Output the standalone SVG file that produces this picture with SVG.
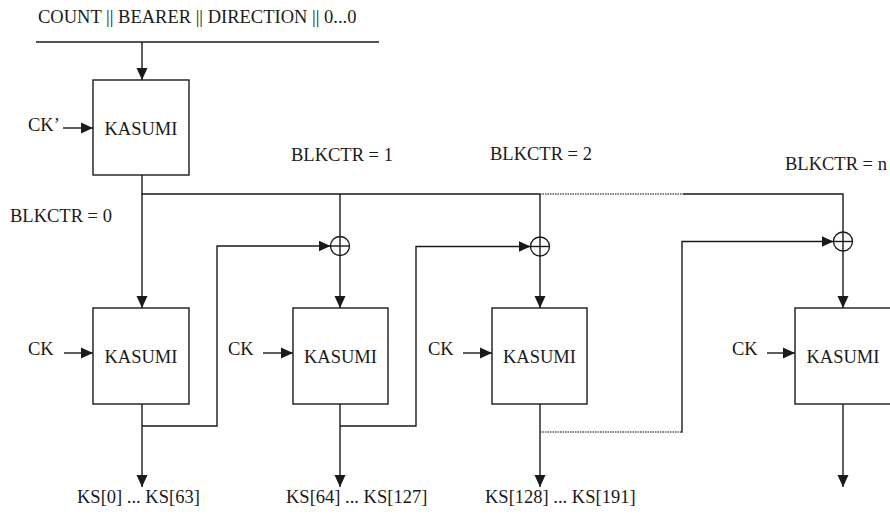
<svg xmlns="http://www.w3.org/2000/svg" width="890" height="514" viewBox="0 0 890 514">
<style>
text{font-family:'Liberation Serif','Times New Roman','DejaVu Serif',serif;font-size:18.5px;fill:#1a1a1a}
.c{text-anchor:middle}
.ln{stroke:#1a1a1a;stroke-width:1.4;fill:none}
.dt{stroke:#555;stroke-width:1.4;fill:none;stroke-dasharray:1.5 1}
.bx{stroke:#1a1a1a;stroke-width:1.4;fill:#fff}
.x{stroke:#1a1a1a;stroke-width:1.3;fill:#fff}
</style>
<defs>
<marker id="ah" markerWidth="12" markerHeight="12" viewBox="0 0 12 12" refX="12" refY="6" orient="auto" markerUnits="userSpaceOnUse">
<path d="M0,0.5 L12,6 L0,11.5 Z" fill="#1a1a1a"/>
</marker>
</defs>
<rect width="890" height="514" fill="#fff"/>
<g id="connectors">
<line class="ln" x1="36" y1="42" x2="379" y2="42"/>
<line class="ln" x1="142" y1="42" x2="142" y2="80" marker-end="url(#ah)"/>
<line class="ln" x1="63" y1="128" x2="93" y2="128" marker-end="url(#ah)"/>
<polyline class="ln" points="142,175 142,194 540,194"/>
<line class="dt" x1="540" y1="194" x2="683" y2="194"/>
<polyline class="ln" points="683,194 843,194 843,232"/>
<line class="ln" x1="142" y1="194" x2="142" y2="308" marker-end="url(#ah)"/>
<line class="ln" x1="340" y1="194" x2="340" y2="236"/>
<line class="ln" x1="340" y1="255" x2="340" y2="308" marker-end="url(#ah)"/>
<line class="ln" x1="540" y1="194" x2="540" y2="237"/>
<line class="ln" x1="540" y1="256" x2="540" y2="308" marker-end="url(#ah)"/>
<line class="ln" x1="843" y1="251" x2="843" y2="308" marker-end="url(#ah)"/>
<line class="ln" x1="64" y1="353" x2="93" y2="353" marker-end="url(#ah)"/>
<line class="ln" x1="263" y1="353" x2="293" y2="353" marker-end="url(#ah)"/>
<line class="ln" x1="463" y1="353" x2="492" y2="353" marker-end="url(#ah)"/>
<line class="ln" x1="767" y1="353" x2="795" y2="353" marker-end="url(#ah)"/>
<line class="ln" x1="142" y1="404" x2="142" y2="487" marker-end="url(#ah)"/>
<line class="ln" x1="340" y1="404" x2="340" y2="487" marker-end="url(#ah)"/>
<line class="ln" x1="540" y1="404" x2="540" y2="487" marker-end="url(#ah)"/>
<line class="ln" x1="843" y1="404" x2="843" y2="487" marker-end="url(#ah)"/>
<polyline class="ln" points="142,426 217,426 217,246 330.5,246" marker-end="url(#ah)"/>
<polyline class="ln" points="340,426 416,426 416,246.5 530.5,246.5" marker-end="url(#ah)"/>
<line class="dt" x1="540" y1="432" x2="682" y2="432"/>
<polyline class="ln" points="682,432.7 682,241.5 833.5,241.5" marker-end="url(#ah)"/>
</g>
<g id="xor1"><circle class="x" cx="340" cy="246" r="9.5"/><line class="ln" x1="330.5" y1="246" x2="349.5" y2="246"/><line class="ln" x1="340" y1="236.5" x2="340" y2="255.5"/></g>
<g id="xor2"><circle class="x" cx="540" cy="246.5" r="9.5"/><line class="ln" x1="530.5" y1="246.5" x2="549.5" y2="246.5"/><line class="ln" x1="540" y1="237" x2="540" y2="256"/></g>
<g id="xorn"><circle class="x" cx="843" cy="241.5" r="9.5"/><line class="ln" x1="833.5" y1="241.5" x2="852.5" y2="241.5"/><line class="ln" x1="843" y1="232" x2="843" y2="251"/></g>
<g id="kasumi0"><rect class="bx" x="93" y="80" width="96" height="95"/><text class="c" x="141" y="135">KASUMI</text></g>
<g id="kasumi1"><rect class="bx" x="93" y="308" width="96" height="96"/><text class="c" x="141" y="363">KASUMI</text></g>
<g id="kasumi2"><rect class="bx" x="293" y="308" width="95" height="96"/><text class="c" x="340.5" y="363">KASUMI</text></g>
<g id="kasumi3"><rect class="bx" x="492" y="308" width="95" height="96"/><text class="c" x="539.5" y="363">KASUMI</text></g>
<g id="kasumin"><rect class="bx" x="795" y="308" width="96" height="96"/><text class="c" x="843" y="363">KASUMI</text></g>
<g id="labels">
<text x="38" y="23">COUNT || BEARER || DIRECTION || 0...0</text>
<text x="28" y="131">CK’</text>
<text x="291" y="161">BLKCTR = 1</text>
<text x="490" y="160">BLKCTR = 2</text>
<text x="785" y="170">BLKCTR = n</text>
<text x="10" y="222">BLKCTR = 0</text>
<text x="28" y="355">CK</text>
<text x="228" y="355">CK</text>
<text x="428" y="355">CK</text>
<text x="732" y="355">CK</text>
<text x="77" y="503">KS[0] ... KS[63]</text>
<text x="286" y="503">KS[64] ... KS[127]</text>
<text x="485" y="503">KS[128] ... KS[191]</text>
</g>
</svg>
